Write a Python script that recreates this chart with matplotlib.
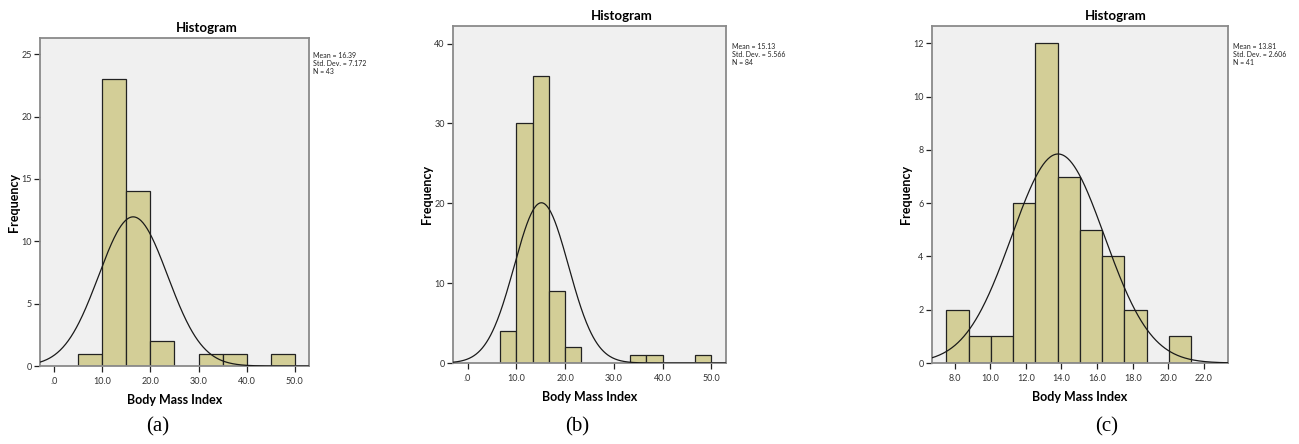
import matplotlib
matplotlib.use('Agg')
import matplotlib.pyplot as plt
import numpy as np

# histogram data (bin edges, counts) + stats box values
edges_a = [5.0, 10.0, 15.0, 20.0, 25.0, 30.0, 35.0, 40.0, 45.0, 50.0]
counts_a = [1, 23, 14, 2, 0, 1, 1, 0, 1]
mean_a, sd_a, n_a = 16.39, 7.172, 43

edges_b = [6.67, 10.0, 13.33, 16.67, 20.0, 23.33, 26.67, 30.0, 33.33, 36.67, 40.0, 43.33, 46.67, 50.0]
counts_b = [4, 30, 36, 9, 2, 0, 0, 0, 1, 1, 0, 0, 1]
mean_b, sd_b, n_b = 15.13, 5.566, 84

edges_c = [7.53, 8.78, 10.03, 11.28, 12.53, 13.78, 15.03, 16.28, 17.53, 18.78, 20.03, 21.28]
counts_c = [2, 1, 1, 6, 12, 7, 5, 4, 2, 0, 1]
mean_c, sd_c, n_c = 13.81, 2.606, 41

xticks_ab = [0, 10, 20, 30, 40, 50]
xticks_c = [8, 10, 12, 14, 16, 18, 20, 22]
yticks_a = [0, 5, 10, 15, 20, 25]
yticks_b = [0, 10, 20, 30, 40]
yticks_c = [0, 2, 4, 6, 8, 10, 12]

W, H = 1299, 444
plt.rcParams['font.family'] = ['Lato', 'DejaVu Sans']

fig = plt.figure(figsize=(W / 100, H / 100), dpi=100)


def px(x, y):
    return x / W, 1 - y / H


def panel(box, edges, counts, mean, sd, n, xlim, ylim, xt, yt,
          title_x, title_y, stat_x, stat_y, tag, tag_x):
    x0, y0, x1, y1 = box
    ax = fig.add_axes([x0 / W, 1 - y1 / H, (x1 - x0) / W, (y1 - y0) / H])
    ax.set_facecolor('#f0f0f0')
    e = np.array(edges)
    c = np.array(counts)
    keep = c > 0
    ax.bar(e[:-1][keep], c[keep], width=np.diff(e)[keep], align='edge',
           color='#d3ce97', edgecolor='#222222', linewidth=0.9, zorder=2)
    # fitted normal curve scaled to counts
    bw = np.mean(np.diff(e))
    xs = np.linspace(xlim[0], xlim[1], 400)
    ys = n * bw / (sd * np.sqrt(2 * np.pi)) * np.exp(-0.5 * ((xs - mean) / sd) ** 2)
    ax.plot(xs, ys, color='#1a1a1a', lw=0.9, zorder=3)
    ax.set_xlim(*xlim)
    ax.set_ylim(*ylim)
    ax.set_xticks(xt)
    ax.set_xticklabels(['.0' if v == 0 else '%.1f' % v for v in xt])
    ax.set_yticks(yt)
    for s in ax.spines.values():
        s.set_color('#8a8a8a')
        s.set_linewidth(1.3)
    ax.tick_params(axis='both', direction='out', length=4, width=0.9,
                   color='#222222', labelsize=6.5, labelcolor='#333333', pad=2)
    ax.tick_params(axis='x', pad=4)
    ax.set_xlabel('Body Mass Index', fontsize=9, fontweight='bold', labelpad=6)
    ax.set_ylabel('Frequency', fontsize=9, fontweight='bold', labelpad=1)
    fig.text(*px(title_x, title_y), 'Histogram', fontsize=9.5, fontweight='bold',
             ha='center', va='center')
    fig.text(*px(stat_x, stat_y),
             'Mean = %.2f\nStd. Dev. = %.3f\nN = %d' % (mean, sd, n),
             fontsize=5, ha='left', va='top', linespacing=1.15, color='#222222')
    fig.text(*px(tag_x, 427), tag, family='Liberation Serif', fontsize=15,
             ha='center', va='center')
    return ax


panel((40, 38, 309, 366), edges_a, counts_a, mean_a, sd_a, n_a,
      (-3, 53), (0, 26.3), xticks_ab, yticks_a, 207, 28, 313, 52, '(a)', 158)
panel((453, 26, 726, 363), edges_b, counts_b, mean_b, sd_b, n_b,
      (-3, 53), (0, 42.2), xticks_ab, yticks_b, 622, 16, 732, 43, '(b)', 577)
panel((932, 26, 1228, 363), edges_c, counts_c, mean_c, sd_c, n_c,
      (6.73, 23.35), (0, 12.65), xticks_c, yticks_c, 1116, 16, 1233, 43, '(c)', 1107)

fig.savefig('out.png', dpi=100)
